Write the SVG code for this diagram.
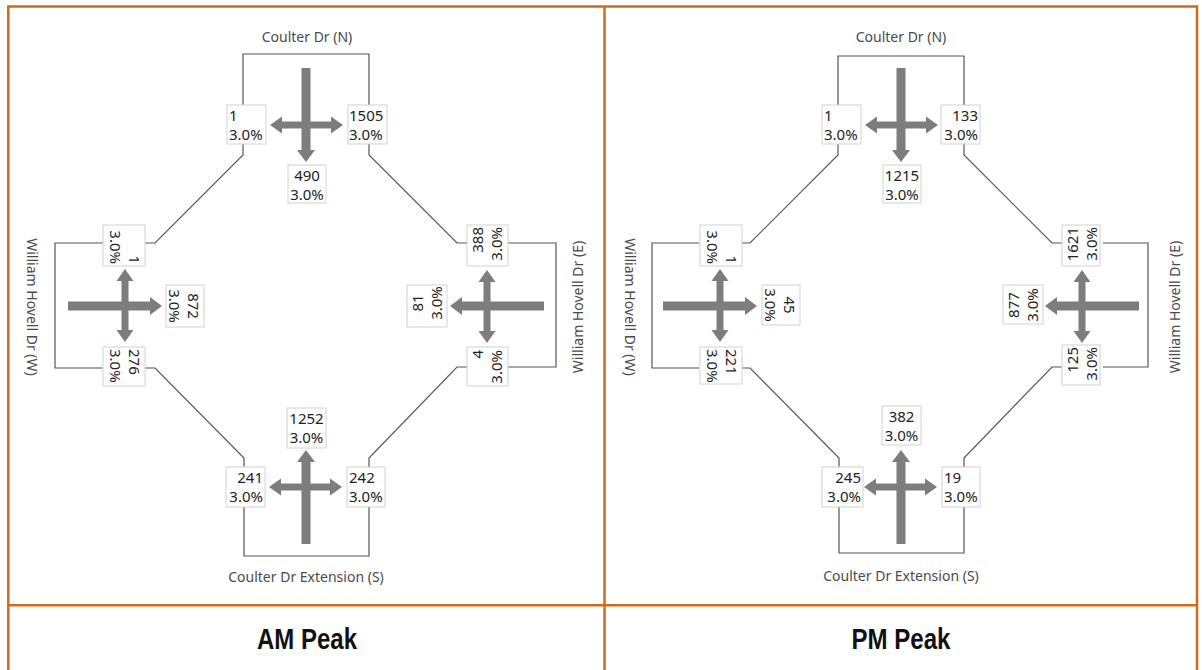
<svg xmlns="http://www.w3.org/2000/svg" width="1202" height="670" viewBox="0 0 1202 670">
<style>
.frame{stroke:#cf6a1e;stroke-width:2.5;fill:none}
.road{fill:none;stroke:#555;stroke-width:1.2}
.box{fill:#fff;stroke:#d2d2d2;stroke-width:1}
.v{font-family:"Noto Sans","Open Sans","Liberation Sans",sans-serif;font-size:15px;fill:#222}
.rn{font-family:"Noto Sans","Open Sans","Liberation Sans",sans-serif;font-size:14px;fill:#4a4a4a}
.title{font-family:"Liberation Sans",Arial,sans-serif;font-weight:bold;font-size:29px;fill:#111}
.arr{fill:#7d7d7d}
</style>
<defs>
<path id="appr" d="M-4.5,-238 H4.5 V-156 H9 L0,-144 L-9,-156 H-4.5 Z M-24,-184.5 H25 V-189.5 L37,-181 L25,-172.5 V-177.5 H-24 V-172.5 L-36,-181 L-24,-189.5 Z"/>
</defs>
<rect width="1202" height="670" fill="#fff"/>
<g id="frame">
<rect class="frame" x="8.3" y="6.5" width="1188.7" height="666"/>
<path class="frame" d="M604.5,6.5 V672 M8.3,605.3 H1197"/>
<text class="title" x="307" y="649" text-anchor="middle" textLength="100" lengthAdjust="spacingAndGlyphs">AM Peak</text>
<text class="title" x="901" y="649" text-anchor="middle" textLength="99" lengthAdjust="spacingAndGlyphs">PM Peak</text>
</g>

<!-- AM panel -->
<g id="am">
<g id="am-connectors">
<path class="road" d="M243,105 V54 H369 V105 M103,243 H55 V368 H103 M508,243 H556 V367 H508 M244,507 V556 H369 V507"/>
<path class="road" d="M243,144 V155 L155,243 H145 M369,144 V155 L457,243 H467 M145,368 H155 L244,458 V467 M467,367 H457 L369,458 V467"/>
</g>
<g id="am-arrows" class="arr">
<use href="#appr" transform="translate(306,306)"/>
<use href="#appr" transform="translate(306,306) rotate(-90)"/>
<use href="#appr" transform="translate(306,306) rotate(90)"/>
<use href="#appr" transform="translate(306,306) rotate(180)"/>
</g>
<g id="am-north">
<text class="rn" x="307" y="42" text-anchor="middle">Coulter Dr (N)</text>
<rect class="box" x="227" y="105" width="39" height="39"/>
<text class="v" x="229" y="121">1<tspan x="229" y="140">3.0%</tspan></text>
<rect class="box" x="348" y="105" width="39" height="39"/>
<text class="v" x="349" y="121">1505<tspan x="349" y="140">3.0%</tspan></text>
<rect class="box" x="288" y="165" width="38" height="38"/>
<text class="v" x="307" y="181" text-anchor="middle">490<tspan x="307" y="200">3.0%</tspan></text>
</g>
<g id="am-west">
<text class="rn" transform="translate(27,307) rotate(90)" text-anchor="middle">William Hovell Dr (W)</text>
<rect class="box" x="103" y="225" width="42" height="41"/>
<text class="v" transform="translate(129,264) rotate(90)" text-anchor="end">1<tspan x="0" y="19">3.0%</tspan></text>
<rect class="box" x="166" y="285" width="38" height="42"/>
<text class="v" transform="translate(188,306) rotate(90)" text-anchor="middle">872<tspan x="0" y="19">3.0%</tspan></text>
<rect class="box" x="103" y="347" width="42" height="39"/>
<text class="v" transform="translate(129,349) rotate(90)">276<tspan x="0" y="19">3.0%</tspan></text>
</g>
<g id="am-east">
<text class="rn" transform="translate(583,307) rotate(-90)" text-anchor="middle">William Hovell Dr (E)</text>
<rect class="box" x="467" y="225" width="41" height="41"/>
<text class="v" transform="translate(483,227) rotate(-90)" text-anchor="end">388<tspan x="0" y="19">3.0%</tspan></text>
<rect class="box" x="407" y="285" width="40" height="42"/>
<text class="v" transform="translate(423,303) rotate(-90)" text-anchor="middle">81<tspan x="0" y="19">3.0%</tspan></text>
<rect class="box" x="467" y="347" width="41" height="39"/>
<text class="v" transform="translate(483,350) rotate(-90)" text-anchor="end">4<tspan x="0" y="19">3.0%</tspan></text>
</g>
<g id="am-south">
<text class="rn" x="306" y="582" text-anchor="middle">Coulter Dr Extension (S)</text>
<rect class="box" x="226" y="467" width="39" height="40"/>
<text class="v" x="263" y="483" text-anchor="end">241<tspan x="263" y="502">3.0%</tspan></text>
<rect class="box" x="347" y="467" width="38" height="40"/>
<text class="v" x="349" y="483">242<tspan x="349" y="502">3.0%</tspan></text>
<rect class="box" x="287" y="408" width="39" height="40"/>
<text class="v" x="306.5" y="424" text-anchor="middle">1252<tspan x="306.5" y="443">3.0%</tspan></text>
</g>
</g>

<!-- PM panel -->
<g id="pm" transform="translate(595,0)">
<g id="pm-connectors">
<path class="road" d="M243,105 V56 H369 V105 M104,243 H57 V368 H104 M508,243 H553 V367 H508 M244,507 V553 H369 V507"/>
<path class="road" d="M243,144 V155 L155,243 H146 M369,144 V155 L457,243 H467 M146,368 H155 L244,458 V467 M467,367 H457 L369,458 V467"/>
</g>
<g id="pm-arrows" class="arr">
<use href="#appr" transform="translate(306,306)"/>
<use href="#appr" transform="translate(306,306) rotate(-90)"/>
<use href="#appr" transform="translate(306,306) rotate(90)"/>
<use href="#appr" transform="translate(306,306) rotate(180)"/>
</g>
<g id="pm-north">
<text class="rn" x="306" y="42" text-anchor="middle">Coulter Dr (N)</text>
<rect class="box" x="227" y="105" width="39" height="39"/>
<text class="v" x="229" y="121">1<tspan x="229" y="140">3.0%</tspan></text>
<rect class="box" x="346" y="105" width="39" height="39"/>
<text class="v" x="383" y="121" text-anchor="end">133<tspan x="383" y="140">3.0%</tspan></text>
<rect class="box" x="288" y="165" width="38" height="38"/>
<text class="v" x="307" y="181" text-anchor="middle">1215<tspan x="307" y="200">3.0%</tspan></text>
</g>
<g id="pm-west">
<text class="rn" transform="translate(30,307) rotate(90)" text-anchor="middle">William Hovell Dr (W)</text>
<rect class="box" x="105" y="225" width="42" height="41"/>
<text class="v" transform="translate(131,264) rotate(90)" text-anchor="end">1<tspan x="0" y="19">3.0%</tspan></text>
<rect class="box" x="167" y="285" width="38" height="40"/>
<text class="v" transform="translate(189,305) rotate(90)" text-anchor="middle">45<tspan x="0" y="19">3.0%</tspan></text>
<rect class="box" x="105" y="347" width="42" height="37"/>
<text class="v" transform="translate(131,349) rotate(90)">221<tspan x="0" y="19">3.0%</tspan></text>
</g>
<g id="pm-east">
<text class="rn" transform="translate(585,307) rotate(-90)" text-anchor="middle">William Hovell Dr (E)</text>
<rect class="box" x="467" y="225" width="38" height="41"/>
<text class="v" transform="translate(483,227) rotate(-90)" text-anchor="end">1621<tspan x="0" y="19">3.0%</tspan></text>
<rect class="box" x="408" y="285" width="40" height="39"/>
<text class="v" transform="translate(424,305) rotate(-90)" text-anchor="middle">877<tspan x="0" y="19">3.0%</tspan></text>
<rect class="box" x="467" y="345" width="38" height="40"/>
<text class="v" transform="translate(483,347) rotate(-90)" text-anchor="end">125<tspan x="0" y="19">3.0%</tspan></text>
</g>
<g id="pm-south">
<text class="rn" x="306" y="581" text-anchor="middle">Coulter Dr Extension (S)</text>
<rect class="box" x="227" y="467" width="41" height="40"/>
<text class="v" x="266" y="483" text-anchor="end">245<tspan x="266" y="502">3.0%</tspan></text>
<rect class="box" x="347" y="467" width="38" height="40"/>
<text class="v" x="349" y="483">19<tspan x="349" y="502">3.0%</tspan></text>
<rect class="box" x="287" y="406" width="39" height="39"/>
<text class="v" x="306.5" y="422" text-anchor="middle">382<tspan x="306.5" y="441">3.0%</tspan></text>
</g>
</g>
</svg>
